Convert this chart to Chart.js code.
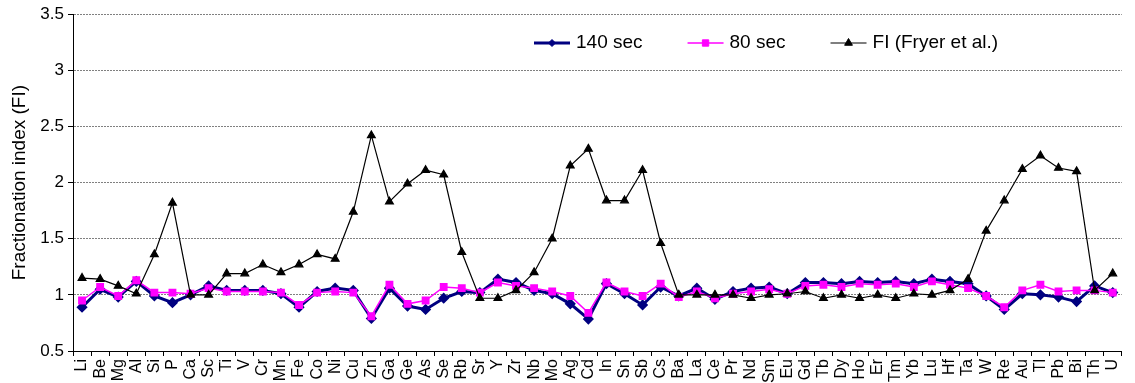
<!DOCTYPE html>
<html>
<head>
<meta charset="utf-8">
<script src="https://cdn.jsdelivr.net/npm/chart.js@4/dist/chart.umd.min.js"></script>
<style>
  html, body { margin: 0; padding: 0; background: #fff; }
  #wrap { width: 1135px; height: 383px; }
</style>
</head>
<body>
<div id="wrap"><canvas id="fi" width="1135" height="383"></canvas></div>
<script>
// Elements analysed, in plotting order
const elements = ['Li','Be','Mg','Al','Si','P','Ca','Sc','Ti','V','Cr','Mn','Fe','Co','Ni','Cu','Zn','Ga','Ge','As',
  'Se','Rb','Sr','Y','Zr','Nb','Mo','Ag','Cd','In','Sn','Sb','Cs','Ba','La','Ce','Pr','Nd','Sm','Eu',
  'Gd','Tb','Dy','Ho','Er','Tm','Yb','Lu','Hf','Ta','W','Re','Au','Tl','Pb','Bi','Th','U'];

// Fractionation index, 140 s ablation
const sec140 = [0.89,1.05,0.98,1.12,0.99,0.93,1.00,1.08,1.04,1.04,1.04,1.01,0.89,1.03,1.06,1.04,0.79,1.06,0.90,0.87,
  0.97,1.03,1.02,1.14,1.11,1.04,1.01,0.92,0.785,1.10,1.01,0.91,1.07,0.99,1.06,0.96,1.03,1.06,1.07,1.01,
  1.11,1.11,1.10,1.12,1.11,1.12,1.10,1.14,1.12,1.10,0.99,0.87,1.01,1.00,0.98,0.94,1.08,1.02];

// Fractionation index, 80 s ablation
const sec80 = [0.95,1.07,0.99,1.13,1.02,1.02,1.01,1.06,1.03,1.03,1.03,1.02,0.91,1.02,1.03,1.02,0.81,1.09,0.92,0.95,
  1.07,1.06,1.02,1.11,1.08,1.06,1.03,0.99,0.84,1.11,1.03,0.99,1.10,0.98,1.03,0.97,1.01,1.03,1.05,1.01,
  1.08,1.09,1.07,1.10,1.09,1.10,1.07,1.12,1.09,1.06,0.99,0.89,1.04,1.09,1.03,1.04,1.04,1.02];

// Fractionation index reported by Fryer et al.
const fryer = [1.15,1.14,1.08,1.01,1.36,1.82,1.00,1.00,1.19,1.19,1.27,1.20,1.27,1.36,1.32,1.74,2.42,1.83,1.99,2.11,
  2.07,1.38,0.97,0.97,1.04,1.20,1.50,2.15,2.30,1.84,1.84,2.11,1.46,1.00,1.00,1.00,1.00,0.97,1.00,1.01,
  1.03,0.97,1.00,0.97,1.00,0.97,1.01,1.00,1.04,1.14,1.57,1.84,2.12,2.24,2.13,2.10,1.04,1.19];

// Y axis range and step
const yMin = 0.5, yMax = 3.5, yStep = 0.5;

const FONT = "'Liberation Sans', Arial, sans-serif";

// Legend drawn inside the plot area: line sample with its marker, then the label
const insideLegend = {
  id: 'insideLegend',
  afterDraw(chart) {
    const ctx = chart.ctx;
    const y = 43;
    let x = 534;
    const lineLen = 36, gap = 6, itemGap = 45;
    ctx.save();
    ctx.font = '19px ' + FONT;
    ctx.textBaseline = 'middle';
    ctx.textAlign = 'left';
    chart.data.datasets.slice().sort((a, b) => a.legendIndex - b.legendIndex).forEach(ds => {
      ctx.strokeStyle = ds.borderColor;
      ctx.lineWidth = ds.borderWidth;
      ctx.setLineDash([]);
      ctx.beginPath();
      ctx.moveTo(x, y);
      ctx.lineTo(x + lineLen, y);
      ctx.stroke();
      ctx.fillStyle = ds.pointBackgroundColor;
      ctx.strokeStyle = ds.pointBorderColor;
      ctx.lineWidth = 1;
      Chart.helpers.drawPoint(ctx, {
        pointStyle: ds.pointStyle, radius: ds.pointRadius, rotation: 0, borderWidth: 1
      }, x + lineLen / 2, y);
      ctx.fillStyle = '#000';
      ctx.fillText(ds.label, x + lineLen + gap, y);
      x += lineLen + gap + ctx.measureText(ds.label).width + itemGap;
    });
    ctx.restore();
  }
};

new Chart(document.getElementById('fi'), {
  type: 'line',
  data: {
    labels: elements,
    datasets: [
      {
        label: '140 sec', legendIndex: 0, order: 3,
        data: sec140,
        borderColor: '#000080', borderWidth: 3,
        pointStyle: 'rectRot', pointRadius: 3.5,
        pointBackgroundColor: '#000080', pointBorderColor: '#000080',
        tension: 0
      },
      {
        label: '80 sec', legendIndex: 1, order: 2,
        data: sec80,
        borderColor: '#FF00FF', borderWidth: 1.5,
        pointStyle: 'rect', pointRadius: 4.5,
        pointBackgroundColor: '#FF00FF', pointBorderColor: '#FF00FF',
        tension: 0
      },
      {
        label: 'FI (Fryer et al.)', legendIndex: 2, order: 1,
        data: fryer,
        borderColor: '#000000', borderWidth: 1.2,
        pointStyle: 'triangle', pointRadius: 4.5,
        pointBackgroundColor: '#000000', pointBorderColor: '#000000',
        tension: 0
      }
    ]
  },
  options: {
    responsive: false,
    animation: false,
    devicePixelRatio: 1,
    layout: { padding: { top: 13, right: 2, left: 0, bottom: 0 } },
    plugins: { legend: { display: false }, tooltip: { enabled: false } },
    scales: {
      x: {
        type: 'category',
        offset: true,
        afterFit(s) { s.height = 32; },
        grid: { display: true, drawOnChartArea: false, drawTicks: true, tickLength: 5, tickColor: '#000', offset: true },
        border: { display: true, color: '#000', width: 1 },
        ticks: {
          autoSkip: false, minRotation: 90, maxRotation: 90, padding: 3,
          color: '#000', font: { family: FONT, size: 16 }
        }
      },
      y: {
        min: yMin, max: yMax,
        afterFit(s) { s.width = 73; },
        grid: { color: '#808080', lineWidth: 1, drawTicks: true, tickLength: 5, tickColor: '#000', tickBorderDash: [] },
        border: { display: true, color: '#000', width: 1, dash: [2, 1] },
        ticks: {
          stepSize: yStep, padding: 4, color: '#000',
          font: { family: FONT, size: 17 },
          callback: v => String(Math.round(v * 10) / 10)
        },
        title: {
          display: true, text: 'Fractionation index (FI)', color: '#000',
          font: { family: FONT, size: 19 }, padding: { top: 8, bottom: 0 }
        }
      }
    }
  },
  plugins: [insideLegend]
});
</script>
</body>
</html>
